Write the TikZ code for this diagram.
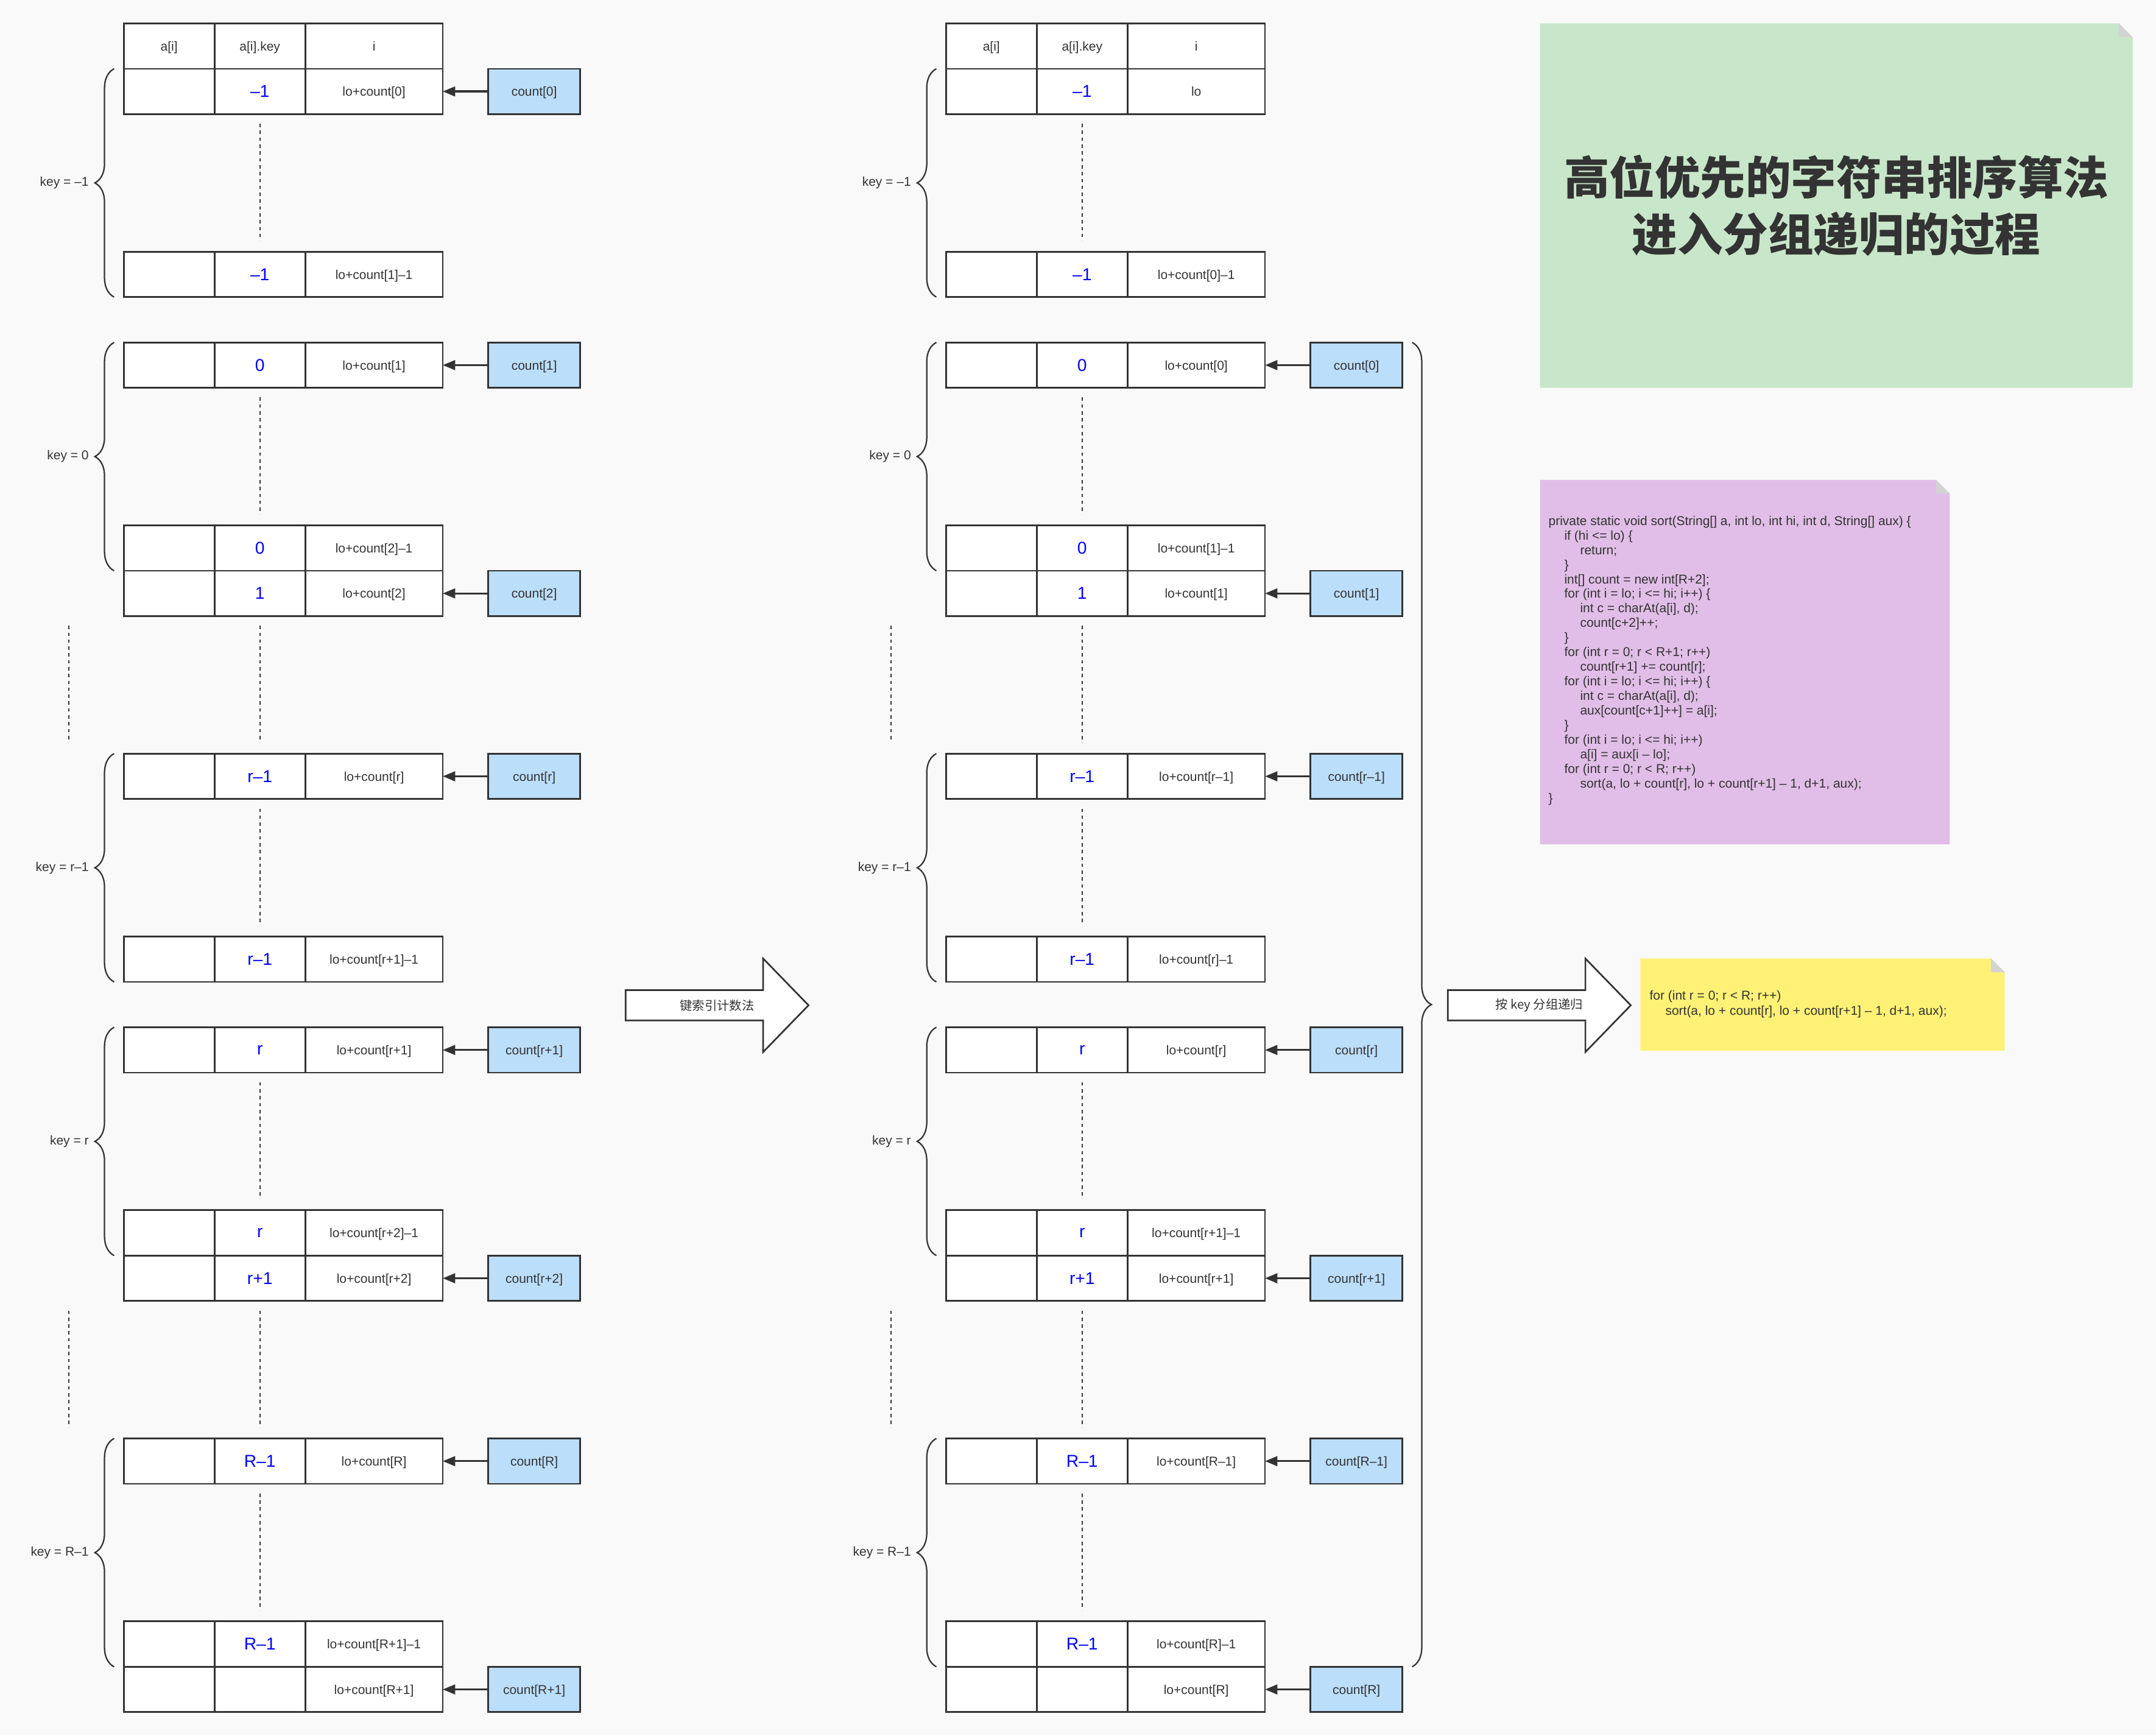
\documentclass[tikz,border=0pt]{standalone}
\usepackage{fontspec}
\setmainfont{Liberation Sans}
\newfontfamily\cjk{Noto Sans CJK SC}
\usetikzlibrary{positioning,arrows.meta,decorations.pathreplacing}
\definecolor{bgpaper}{HTML}{F9F9F9}
\definecolor{inkgray}{HTML}{333333}
\definecolor{countblue}{HTML}{BBDEFB}
\definecolor{keyblue}{HTML}{0000FF}
\definecolor{titlegreen}{HTML}{C8E6C9}
\definecolor{codepurple}{HTML}{E1BEE7}
\definecolor{memoyellow}{HTML}{FFF176}
\definecolor{foldgray}{HTML}{D3D3D3}

\newcommand{\cellfont}{\fontsize{9.3}{11}\selectfont}
\newcommand{\keyfont}{\fontsize{12.5}{14}\selectfont}
\newcommand{\indone}{\hspace*{11.5pt}}
\newcommand{\indtwo}{\hspace*{23pt}}

% header row of a table: name, x, y (top left)
\newcommand{\headrow}[3]{%
  \node[cellA] (#1a) at (#2,#3) {a[i]};
  \node[cell, minimum width=66pt, right=0pt of #1a] (#1k) {a[i].key};
  \node[cellI, right=0pt of #1k] (#1i) {i};
}
% one row: name, x, y (top left), key, index
\newcommand{\keyrow}[5]{%
  \node[cellA] (#1a) at (#2,#3) {};
  \node[cellK, right=0pt of #1a] (#1k) {#4};
  \node[cellI, right=0pt of #1k] (#1i) {#5};
}
% count box pointing at a row
\newcommand{\cntptr}[2]{%
  \node[cntbox, right=33pt of #1i] (c#1) {#2};
  \draw[ptr] (c#1) -- (#1i);
}
% big hollow arrow: name, x of tail, y of middle, text
\newcommand{\blockarrow}[4]{%
  \draw[bigarrow] (#2,#3-11) -- ++(100,0) -- ++(0,-23) -- ++(33,34)
    -- ++(-33,34) -- ++(0,-23) -- ++(-100,0) -- cycle;
  \node[arrowtext] (#1) at (#2+66.5,#3) {#4};
}
% sticky note with folded corner: name, x0, y0, x1, y1, colour
\newcommand{\memo}[6]{%
  \fill[#6] (#2,#3) -- (#4-10,#3) -- (#4,#3+10) -- (#4,#5) -- (#2,#5) -- cycle;
  \fill[foldgray] (#4-10,#3) -- (#4-10,#3+10) -- (#4,#3+10) -- cycle;
  \coordinate (#1) at ({(#2+#4)/2},{(#3+#5)/2});
}

\begin{document}
\begin{tikzpicture}[x=1pt, y=-1pt,
    cell/.style={draw=inkgray, fill=white, line width=1.2pt, minimum height=33pt,
      inner sep=0pt, outer sep=0pt, text depth=0pt, text=inkgray, font=\cellfont},
    cellA/.style={cell, minimum width=66pt, anchor=north west},
    cellK/.style={cell, minimum width=66pt, text=keyblue, font=\keyfont},
    cellI/.style={cell, minimum width=100pt},
    cntbox/.style={cell, fill=countblue, minimum width=67pt},
    ptr/.style={draw=inkgray, line width=1.5pt, -{Triangle[length=9pt,width=7pt]}},
    gapline/.style={draw=inkgray, line width=1pt, dash pattern=on 2.5pt off 2.5pt,
      shorten <=7pt, shorten >=8pt},
    brc/.style={draw=inkgray, line width=1pt, decorate,
      decoration={brace, amplitude=14pt}},
    keylbl/.style={text=inkgray, font=\cellfont, inner sep=0pt},
    bigarrow/.style={draw=inkgray, fill=white, line width=1.2pt},
    arrowtext/.style={text=inkgray, font=\cjk\fontsize{9}{11}\selectfont},
    titletext/.style={text=inkgray, align=center,
      font=\cjk\bfseries\fontsize{33}{41}\selectfont},
    codetext/.style={text=inkgray, align=left, inner sep=0pt, anchor=north west,
      font=\fontsize{9.3}{10.6}\selectfont}]
  \useasboundingbox (0,0) rectangle (1568,1262);
  \fill[bgpaper] (0,0) rectangle (1568,1262);

  % left table: before key-indexed counting
  \headrow{Lh}{90}{17}
  \keyrow{L1}{90}{50}{–1}{lo+count[0]}
  \keyrow{L2}{90}{183}{–1}{lo+count[1]–1}
  \keyrow{L3}{90}{249}{0}{lo+count[1]}
  \keyrow{L4}{90}{382}{0}{lo+count[2]–1}
  \keyrow{L5}{90}{415}{1}{lo+count[2]}
  \keyrow{L6}{90}{548}{r–1}{lo+count[r]}
  \keyrow{L7}{90}{681}{r–1}{lo+count[r+1]–1}
  \keyrow{L8}{90}{747}{r}{lo+count[r+1]}
  \keyrow{L9}{90}{880}{r}{lo+count[r+2]–1}
  \keyrow{L10}{90}{913}{r+1}{lo+count[r+2]}
  \keyrow{L11}{90}{1046}{R–1}{lo+count[R]}
  \keyrow{L12}{90}{1179}{R–1}{lo+count[R+1]–1}
  \keyrow{L13}{90}{1212}{}{lo+count[R+1]}

  \cntptr{L1}{count[0]}
  \cntptr{L3}{count[1]}
  \cntptr{L5}{count[2]}
  \cntptr{L6}{count[r]}
  \cntptr{L8}{count[r+1]}
  \cntptr{L10}{count[r+2]}
  \cntptr{L11}{count[R]}
  \cntptr{L13}{count[R+1]}

  \draw[gapline] (L1k) -- (L2k);
  \draw[gapline] (L3k) -- (L4k);
  \draw[gapline] (L5k) -- (L6k);
  \draw[gapline] ([xshift=-40pt]L5a.south west) -- ([xshift=-40pt]L6a.north west);
  \draw[gapline] (L6k) -- (L7k);
  \draw[gapline] (L8k) -- (L9k);
  \draw[gapline] (L10k) -- (L11k);
  \draw[gapline] ([xshift=-40pt]L10a.south west) -- ([xshift=-40pt]L11a.north west);
  \draw[gapline] (L11k) -- (L12k);

  \draw[brc] ([xshift=-7pt]L2a.south west) -- node[keylbl, left=18pt] (kL1) {key = –1} ([xshift=-7pt]L1a.north west);
  \draw[brc] ([xshift=-7pt]L4a.south west) -- node[keylbl, left=18pt] (kL3) {key = 0} ([xshift=-7pt]L3a.north west);
  \draw[brc] ([xshift=-7pt]L7a.south west) -- node[keylbl, left=18pt] (kL6) {key = r–1} ([xshift=-7pt]L6a.north west);
  \draw[brc] ([xshift=-7pt]L9a.south west) -- node[keylbl, left=18pt] (kL8) {key = r} ([xshift=-7pt]L8a.north west);
  \draw[brc] ([xshift=-7pt]L12a.south west) -- node[keylbl, left=18pt] (kL11) {key = R–1} ([xshift=-7pt]L11a.north west);

  \blockarrow{idx}{455}{731}{键索引计数法}

  % middle table: after key-indexed counting
  \headrow{Mh}{688}{17}
  \keyrow{M1}{688}{50}{–1}{lo}
  \keyrow{M2}{688}{183}{–1}{lo+count[0]–1}
  \keyrow{M3}{688}{249}{0}{lo+count[0]}
  \keyrow{M4}{688}{382}{0}{lo+count[1]–1}
  \keyrow{M5}{688}{415}{1}{lo+count[1]}
  \keyrow{M6}{688}{548}{r–1}{lo+count[r–1]}
  \keyrow{M7}{688}{681}{r–1}{lo+count[r]–1}
  \keyrow{M8}{688}{747}{r}{lo+count[r]}
  \keyrow{M9}{688}{880}{r}{lo+count[r+1]–1}
  \keyrow{M10}{688}{913}{r+1}{lo+count[r+1]}
  \keyrow{M11}{688}{1046}{R–1}{lo+count[R–1]}
  \keyrow{M12}{688}{1179}{R–1}{lo+count[R]–1}
  \keyrow{M13}{688}{1212}{}{lo+count[R]}

  \cntptr{M3}{count[0]}
  \cntptr{M5}{count[1]}
  \cntptr{M6}{count[r–1]}
  \cntptr{M8}{count[r]}
  \cntptr{M10}{count[r+1]}
  \cntptr{M11}{count[R–1]}
  \cntptr{M13}{count[R]}

  \draw[gapline] (M1k) -- (M2k);
  \draw[gapline] (M3k) -- (M4k);
  \draw[gapline] (M5k) -- (M6k);
  \draw[gapline] ([xshift=-40pt]M5a.south west) -- ([xshift=-40pt]M6a.north west);
  \draw[gapline] (M6k) -- (M7k);
  \draw[gapline] (M8k) -- (M9k);
  \draw[gapline] (M10k) -- (M11k);
  \draw[gapline] ([xshift=-40pt]M10a.south west) -- ([xshift=-40pt]M11a.north west);
  \draw[gapline] (M11k) -- (M12k);

  \draw[brc] ([xshift=-7pt]M2a.south west) -- node[keylbl, left=18pt] (kM1) {key = –1} ([xshift=-7pt]M1a.north west);
  \draw[brc] ([xshift=-7pt]M4a.south west) -- node[keylbl, left=18pt] (kM3) {key = 0} ([xshift=-7pt]M3a.north west);
  \draw[brc] ([xshift=-7pt]M7a.south west) -- node[keylbl, left=18pt] (kM6) {key = r–1} ([xshift=-7pt]M6a.north west);
  \draw[brc] ([xshift=-7pt]M9a.south west) -- node[keylbl, left=18pt] (kM8) {key = r} ([xshift=-7pt]M8a.north west);
  \draw[brc] ([xshift=-7pt]M12a.south west) -- node[keylbl, left=18pt] (kM11) {key = R–1} ([xshift=-7pt]M11a.north west);

  % all groups from key 0 on
  \draw[brc] ([xshift=7pt]cM3.north east) -- ([xshift=7pt]cM13.north east);
  \blockarrow{grp}{1053}{731}{按 key 分组递归}

  % notes on the right
  \memo{memoT}{1120}{17}{1551}{282}{titlegreen}
  \node[titletext] (title) at (memoT) {高位优先的字符串排序算法\\进入分组递归的过程};

  \memo{memoC}{1120}{349}{1418}{614}{codepurple}
  \node[codetext] (code) at (1126,375) {private static void sort(String[] a, int lo, int hi, int d, String[] aux) \{\\
    \indone if (hi <= lo) \{\\
    \indtwo return;\\
    \indone\}\\
    \indone int[] count = new int[R+2];\\
    \indone for (int i = lo; i <= hi; i++) \{\\
    \indtwo int c = charAt(a[i], d);\\
    \indtwo count[c+2]++;\\
    \indone\}\\
    \indone for (int r = 0; r < R+1; r++)\\
    \indtwo count[r+1] += count[r];\\
    \indone for (int i = lo; i <= hi; i++) \{\\
    \indtwo int c = charAt(a[i], d);\\
    \indtwo aux[count[c+1]++] = a[i];\\
    \indone\}\\
    \indone for (int i = lo; i <= hi; i++)\\
    \indtwo a[i] = aux[i – lo];\\
    \indone for (int r = 0; r < R; r++)\\
    \indtwo sort(a, lo + count[r], lo + count[r+1] – 1, d+1, aux);\\
    \}};

  \memo{memoL}{1193}{697}{1458}{764}{memoyellow}
  \node[codetext, font=\fontsize{9.3}{11}\selectfont] (loop) at (1199.5,720) {for (int r = 0; r < R; r++)\\
    \indone sort(a, lo + count[r], lo + count[r+1] – 1, d+1, aux);};
\end{tikzpicture}
\end{document}
